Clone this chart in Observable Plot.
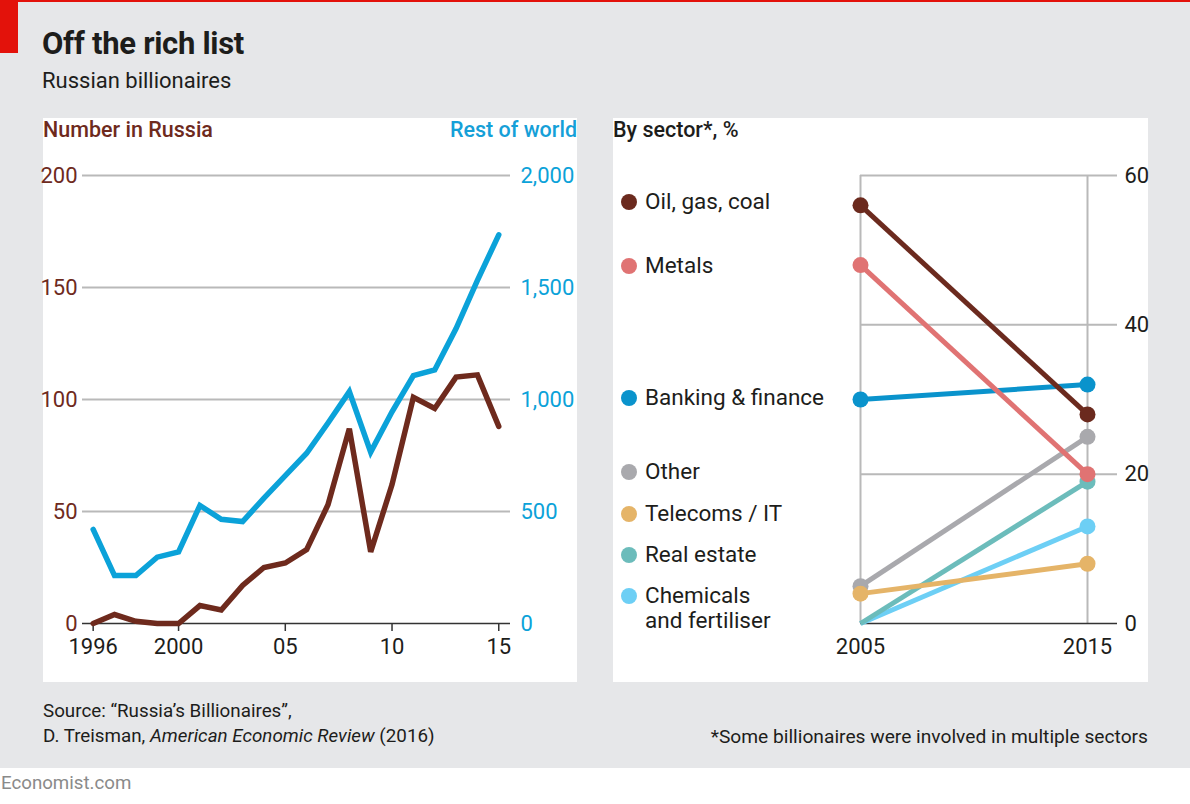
<!DOCTYPE html>
<html>
<head>
<meta charset="utf-8">
<script src="https://cdn.jsdelivr.net/npm/d3@7"></script>
<script src="https://cdn.jsdelivr.net/npm/@observablehq/plot@0.6"></script>
<style>
  html, body { margin: 0; padding: 0; background: #fff; }
  body { width: 1190px; height: 804px; position: relative; overflow: hidden; font-family: Roboto, "Noto Sans", sans-serif; color: #222; }
  .bg { position: absolute; left: 0; top: 0; width: 1190px; height: 768px; background: #e6e7e9; }
  .topline { position: absolute; left: 0; top: 0; width: 1190px; height: 2px; background: #e3120b; }
  .redblock { position: absolute; left: 0; top: 0; width: 18px; height: 53px; background: #e3120b; }
  .title { position: absolute; left: 42px; top: 25px; font-size: 31px; font-weight: 700; color: #1d1d1b; letter-spacing: -0.3px; }
  .subtitle { position: absolute; left: 42px; top: 68px; font-size: 22px; color: #1d1d1b; }
  .panel { position: absolute; top: 118px; height: 564px; background: #fff; }
  #left { left: 43px; width: 534px; }
  #right { left: 613px; width: 535px; }
  .ptitle { position: absolute; top: -1px; font-size: 21.5px; font-weight: 500; line-height: 26px; }
  .panel svg { position: absolute; left: 0; top: 0; }
  .legend-item { position: absolute; left: 8px; display: flex; align-items: flex-start; font-size: 22.5px; line-height: 25px; color: #1d1d1b; }
  .legend-item .sw { width: 16px; height: 16px; border-radius: 50%; margin-top: 4.5px; margin-right: 8px; flex: none; }
  .note { position: absolute; font-size: 18.8px; color: #1d1d1b; line-height: 25px; }
  .brand { position: absolute; left: 1px; top: 772px; font-size: 18.7px; color: #8a8a8a; }
</style>
</head>
<body>
<div class="bg"></div>
<div class="topline"></div>
<div class="redblock"></div>
<div class="title">Off the rich list</div>
<div class="subtitle">Russian billionaires</div>

<div class="panel" id="left">
  <div class="ptitle" style="left:0; color:#6e2a1d;">Number in Russia</div>
  <div class="ptitle" style="right:0; color:#15a0d8;">Rest of world</div>
</div>
<div class="panel" id="right">
  <div class="ptitle" style="left:0; color:#1d1d1b;">By sector*, %</div>
</div>

<div class="note" style="left:43px; top:699px;">Source: “Russia’s Billionaires”,<br>D. Treisman, <i>American Economic Review</i> (2016)</div>
<div class="note" style="right:42px; top:724px; font-size:19.2px;">*Some billionaires were involved in multiple sectors</div>
<div class="brand">Economist.com</div>

<script>
// ---------- Data ----------
const years = [1996, 1997, 1998, 1999, 2000, 2001, 2002, 2003, 2004, 2005, 2006, 2007, 2008, 2009, 2010, 2011, 2012, 2013, 2014, 2015];
const russia = [0, 4, 1, 0, 0, 8, 6, 17, 25, 27, 33, 53, 87, 32, 62, 101, 96, 110, 111, 88];
const restOfWorld = [420, 214, 214, 296, 320, 527, 465, 455, 560, 660, 760, 895, 1035, 765, 945, 1107, 1132, 1317, 1532, 1735];
const russiaTicks = [0, 50, 100, 150, 200];
const yearTicks = [1996, 2000, 2005, 2010, 2015];
const yearTickLabels = ["1996", "2000", "05", "10", "15"];

const sectors = ["Oil, gas, coal", "Metals", "Banking & finance", "Other", "Telecoms / IT", "Real estate", "Chemicals and fertiliser"];
const share2005 = [56, 48, 30, 5, 4, 0, 0];
const share2015 = [28, 20, 32, 25, 8, 19, 13];
const sectorColors = ["#6b2a1e", "#e07373", "#0a93cc", "#a9a9ad", "#e5b468", "#6cbcbb", "#6dcff5"];
const sectorYears = [2005, 2015];
const shareTicks = [0, 20, 40, 60];

// ---------- Styles ----------
const brown = "#6e2a1d";
const blue = "#0ba2d9";
const grid = "#b9b9b9";
const dark = "#333333";
const font = "Roboto, 'Noto Sans', sans-serif";

// ---------- Left chart ----------
const series = years.map((y, i) => ({year: y, russia: russia[i], row: restOfWorld[i]}));

const left = Plot.plot({
  width: 534,
  height: 564,
  marginTop: 57,
  marginBottom: 59,
  marginLeft: 39,
  marginRight: 67,
  style: {background: "transparent", fontFamily: font, fontSize: "22px", overflow: "visible"},
  x: {domain: [1995.5, 2015.55]},
  y: {domain: [0, 200]},
  marks: [
    Plot.ruleY(russiaTicks.filter(d => d > 0), {stroke: grid, strokeWidth: 2}),
    Plot.ruleY([0], {stroke: dark, strokeWidth: 1.5}),
    Plot.axisX({ticks: yearTicks, tickSize: 8, tickPadding: 7, tickFormat: d => yearTickLabels[yearTicks.indexOf(d)], stroke: dark, strokeWidth: 1.5, color: "#1d1d1b", label: null}),
    Plot.axisY({anchor: "left", ticks: russiaTicks, tickSize: 0, tickPadding: 5, color: brown, label: null}),
    Plot.axisY({anchor: "right", ticks: russiaTicks, tickSize: 0, tickPadding: 10, tickFormat: d => d3.format(",")(d * 10), color: blue, label: null}),
    Plot.line(series, {x: "year", y: d => d.row / 10, stroke: blue, strokeWidth: 5.5, strokeLinejoin: "miter", strokeMiterlimit: 3}),
    Plot.line(series, {x: "year", y: "russia", stroke: brown, strokeWidth: 5.5, strokeLinejoin: "miter", strokeMiterlimit: 3})
  ]
});
document.getElementById("left").appendChild(left);

// ---------- Right chart ----------
const rows = sectors.map((s, i) => ({sector: s, v2005: share2005[i], v2015: share2015[i], color: sectorColors[i], order: i}));
const drawOrder = [6, 5, 3, 4, 2, 1, 0].map(i => rows[i]);
const dots = drawOrder.flatMap(r => [
  {year: 2005, value: r.v2005, color: r.color},
  {year: 2015, value: r.v2015, color: r.color}
]).filter(d => d.value > 0);

const right = Plot.plot({
  width: 535,
  height: 564,
  marginTop: 57,
  marginBottom: 59,
  marginLeft: 247,
  marginRight: 31,
  style: {background: "transparent", fontFamily: font, fontSize: "22px", overflow: "visible"},
  x: {domain: sectorYears, range: [247, 474]},
  y: {domain: [0, 60]},
  color: {type: "identity"},
  marks: [
    Plot.ruleY(shareTicks.filter(d => d > 0), {stroke: grid, strokeWidth: 2}),
    Plot.ruleX(sectorYears, {stroke: grid, strokeWidth: 2}),
    Plot.ruleY([0], {stroke: dark, strokeWidth: 1.5}),
    Plot.axisX({ticks: sectorYears, tickSize: 0, tickPadding: 15, tickFormat: d => String(d), color: "#1d1d1b", label: null}),
    Plot.axisY({anchor: "right", ticks: shareTicks, tickSize: 0, tickPadding: 7, color: "#1d1d1b", label: null}),
    Plot.link(drawOrder, {x1: () => 2005, y1: "v2005", x2: () => 2015, y2: "v2015", stroke: "color", strokeWidth: 5}),
    Plot.dot(dots, {x: "year", y: "value", fill: "color", r: 8})
  ]
});
document.getElementById("right").appendChild(right);

// ---------- Legend (HTML) ----------
const legendTops = [71, 135, 267, 341, 383, 424, 465];
const rp = document.getElementById("right");
sectors.forEach((s, i) => {
  const item = document.createElement("div");
  item.className = "legend-item";
  item.style.top = legendTops[i] + "px";
  const sw = document.createElement("span");
  sw.className = "sw";
  sw.style.background = sectorColors[i];
  const lab = document.createElement("span");
  lab.innerHTML = s === "Chemicals and fertiliser" ? "Chemicals<br>and fertiliser" : s;
  item.appendChild(sw);
  item.appendChild(lab);
  rp.appendChild(item);
});
</script>
</body>
</html>
